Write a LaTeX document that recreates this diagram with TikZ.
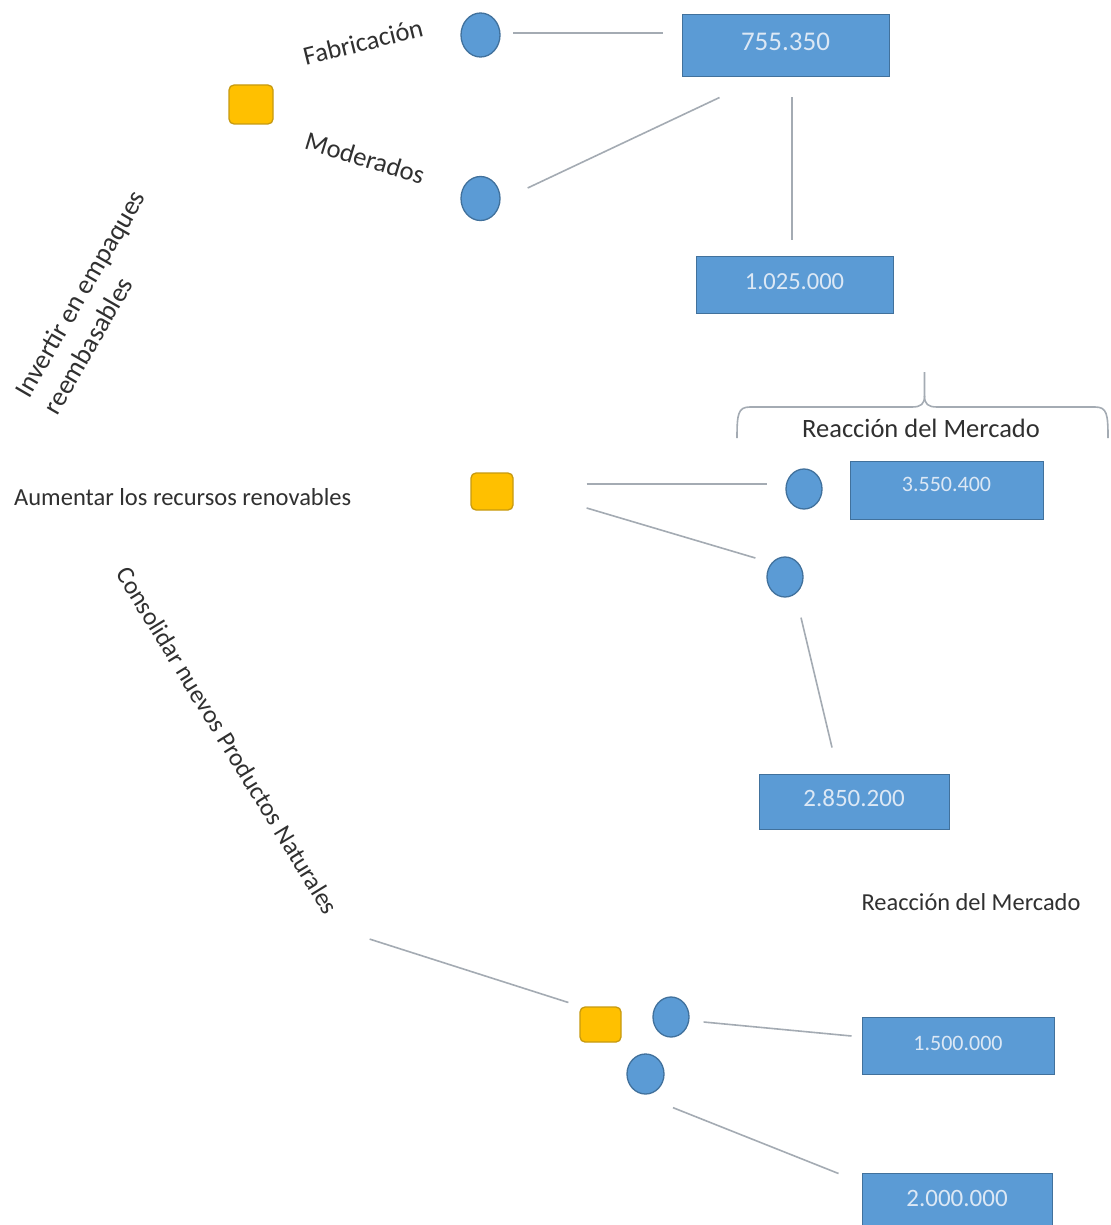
\documentclass[tikz,border=0pt]{standalone}
\usepackage{fontspec}
\setmainfont{Carlito}
\usetikzlibrary{shapes.geometric,calc}
\definecolor{nodeblue}{HTML}{5B9BD5}
\definecolor{nodeblueline}{HTML}{41719C}
\definecolor{decyellow}{HTML}{FFC000}
\definecolor{decline}{HTML}{C79A10}
\definecolor{connline}{HTML}{A4ABB3}
\definecolor{boxtext}{HTML}{DCE8F5}
\definecolor{labeltext}{HTML}{303030}
\begin{document}
\begin{tikzpicture}[x=1pt,y=-1pt,
  decision/.style={draw=decline, fill=decyellow, line width=1.3pt, rounded corners=5pt, inner sep=0pt},
  chance/.style={ellipse, draw=nodeblueline, fill=nodeblue, line width=1.3pt, inner sep=0pt},
  payoff/.style={draw=nodeblueline, fill=nodeblue, line width=1pt, inner sep=0pt, text=boxtext, text height=17pt, text depth=8pt},
  conn/.style={draw=connline, line width=1.6pt},
  brace/.style={draw=connline, line width=1.6pt},
  lbl/.style={text=labeltext, inner sep=0pt}]
\useasboundingbox (0,0) rectangle (1110,1225);
\fill[white] (0,0) rectangle (1110,1225);

% decision nodes
\node[decision, minimum width=44pt, minimum height=39pt] (d1) at (251,104.5) {};
\node[decision, minimum width=42pt, minimum height=37pt] (d2) at (492,491.5) {};
\node[decision, minimum width=41pt, minimum height=35pt] (d3) at (600.5,1024.5) {};

% chance nodes
\node[chance, minimum width=39pt, minimum height=44pt] (c1) at (480.5,35) {};
\node[chance, minimum width=39pt, minimum height=44pt] (c2) at (480.5,198.5) {};
\node[chance, minimum width=36pt, minimum height=40pt] (c3) at (804,489) {};
\node[chance, minimum width=36pt, minimum height=40pt] (c4) at (785,577) {};
\node[chance, minimum width=36pt, minimum height=40pt] (c5) at (671,1017) {};
\node[chance, minimum width=37pt, minimum height=40pt] (c6) at (645.5,1074) {};

% payoff boxes
\node[payoff, minimum width=207pt, minimum height=62pt, font=\fontsize{27}{30}\selectfont] (b1) at (785.5,46) {755.350};
\node[payoff, minimum width=197pt, minimum height=57pt, font=\fontsize{24.5}{28}\selectfont] (b2) at (794.5,284.5) {1.025.000};
\node[payoff, minimum width=193pt, minimum height=58pt, font=\fontsize{22}{26}\selectfont, text depth=14pt] (b3) at (946.5,490) {3.550.400};
\node[payoff, minimum width=190pt, minimum height=55pt, font=\fontsize{25}{28}\selectfont] (b4) at (854,801.5) {2.850.200};
\node[payoff, minimum width=192pt, minimum height=57pt, font=\fontsize{22}{26}\selectfont] (b5) at (958,1045.5) {1.500.000};
\node[payoff, minimum width=190pt, minimum height=57pt, font=\fontsize{25}{28}\selectfont] (b6) at (957,1201.5) {2.000.000};

% labels
\node[lbl, rotate=14, font=\fontsize{26.5}{30}\selectfont] (fab) at (363,42) {Fabricación};
\node[lbl, rotate=-17, font=\fontsize{26.5}{30}\selectfont] (mod) at (365,158) {Moderados};
\node[lbl, rotate=60, align=left, font=\fontsize{27}{33}\selectfont] (inv) at (94,302) {Invertir en empaques\\reembasables};
\node[lbl, anchor=west, font=\fontsize{24.5}{28}\selectfont] (aum) at (14,497) {Aumentar los recursos renovables};
\node[lbl, rotate=-58.5, font=\fontsize{25.3}{28}\selectfont] (cons) at (227.5,740.5) {Consolidar nuevos Productos Naturales};
\node[lbl, font=\fontsize{26.5}{30}\selectfont] (rm1) at (921,428) {Reacción del Mercado};
\node[lbl, font=\fontsize{24.4}{28}\selectfont] (rm2) at (971,902) {Reacción del Mercado};

% connectors
\draw[conn] ($(c1.east)+(12.5,-2)$) -- ($(b1.west)+(-19,-13)$);
\draw[conn] ($(c2.east)+(27,-10.5)$) -- ($(b1.south west)+(38,20)$);
\draw[conn] ($(b1.south)+(6.5,20)$) -- ($(b2.north)+(-2.5,-16)$);
\draw[conn] ($(d2.east)+(73,-7.5)$) -- ($(c3.west)+(-18,-5)$);
\draw[conn] ($(d2.east)+(73,16.5)$) -- ($(c4.west)+(-11,-19)$);
\draw[conn] ($(c4.south)+(16,20)$) -- ($(b4.north)+(-22,-26)$);
\draw[conn] ($(cons.east)+(37,27)$) -- ($(d3.west)+(-11,-22)$);
\draw[conn] ($(c5.east)+(14,5)$) -- ($(b5.west)+(-10,-9.5)$);
\draw[conn] ($(c6.south)+(27.5,13)$) -- ($(b6.north west)+(-23,1)$);

% brace above first "Reaccion del Mercado"
\draw[brace] (737,438) .. controls (737,414) and (738,407) .. (750,407) -- (912,407) .. controls (921,407) and (924.5,404) .. (924.5,396) -- (924.5,372);
\draw[brace] (924.5,396) .. controls (924.5,404) and (928,407) .. (937,407) -- (1095,407) .. controls (1107,407) and (1108,414) .. (1108,438);
\end{tikzpicture}
\end{document}
